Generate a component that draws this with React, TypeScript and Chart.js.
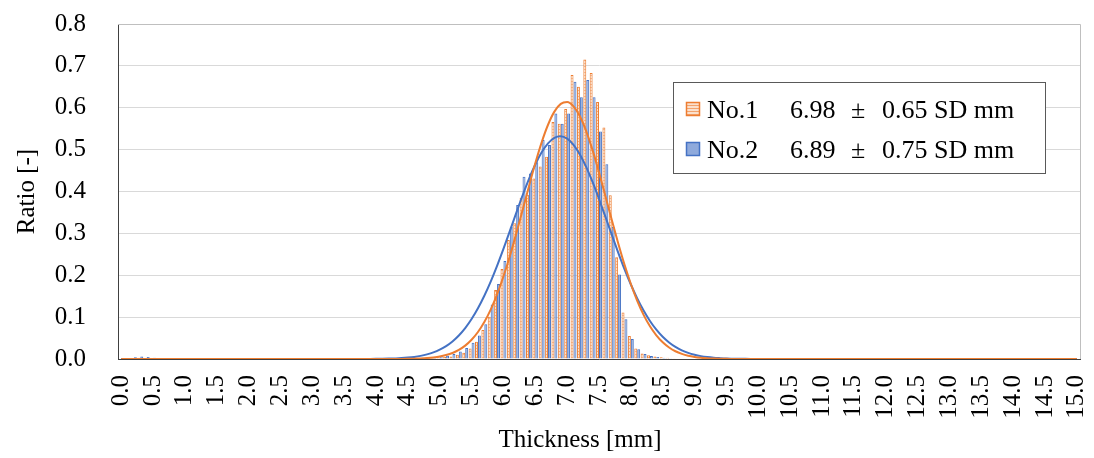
import React, { useEffect, useRef } from "react";
import { Chart, registerables } from "chart.js";

Chart.register(...registerables);

// Thickness bins 0.0 ... 15.0 mm (step 0.1)
const categories: string[] = Array.from({ length: 151 }, (_, i) => (i / 10).toFixed(1));

// Histogram ratio, No.1 (orange)
const no1Bars: number[] = [
  0, 0, 0.002, 0.003, 0.002, 0, 0, 0, 0, 0,
  0, 0, 0, 0, 0, 0, 0, 0, 0, 0,
  0, 0, 0, 0, 0, 0, 0, 0, 0, 0,
  0, 0, 0, 0, 0, 0, 0, 0, 0, 0,
  0, 0, 0, 0, 0, 0, 0, 0, 0.002, 0.003,
  0.004, 0.005, 0.006, 0.010, 0.015, 0.025, 0.041, 0.069, 0.101, 0.165,
  0.215, 0.284, 0.324, 0.385, 0.392, 0.431, 0.460, 0.483, 0.566, 0.562,
  0.597, 0.678, 0.650, 0.715, 0.683, 0.614, 0.553, 0.391, 0.243, 0.111,
  0.055, 0.025, 0.013, 0.009, 0.006, 0.004, 0.003, 0.002, 0.001, 0,
  0, 0, 0, 0, 0, 0, 0, 0, 0, 0,
  0, 0, 0, 0, 0, 0, 0, 0, 0, 0,
  0, 0, 0, 0, 0, 0, 0, 0, 0, 0,
  0, 0, 0, 0, 0, 0, 0, 0, 0, 0,
  0, 0, 0, 0, 0, 0, 0, 0, 0, 0,
  0, 0, 0, 0, 0, 0, 0, 0, 0, 0,
  0,
];

// Histogram ratio, No.2 (blue)
const no2Bars: number[] = [
  0, 0, 0.004, 0.006, 0.005, 0.003, 0.002, 0.002, 0, 0,
  0, 0, 0, 0, 0, 0, 0, 0, 0, 0,
  0, 0, 0, 0, 0, 0, 0, 0, 0, 0,
  0, 0, 0, 0, 0, 0, 0, 0, 0, 0,
  0, 0, 0, 0, 0, 0, 0.002, 0.003, 0.004, 0.005,
  0.007, 0.008, 0.012, 0.018, 0.026, 0.039, 0.056, 0.083, 0.130, 0.179,
  0.234, 0.316, 0.368, 0.435, 0.443, 0.470, 0.523, 0.511, 0.586, 0.562,
  0.586, 0.662, 0.625, 0.666, 0.625, 0.543, 0.465, 0.316, 0.202, 0.095,
  0.048, 0.023, 0.012, 0.007, 0.005, 0.003, 0.002, 0.001, 0.001, 0,
  0, 0, 0, 0, 0, 0, 0, 0, 0, 0,
  0, 0, 0, 0, 0, 0, 0, 0, 0, 0,
  0, 0, 0, 0, 0, 0, 0, 0, 0, 0,
  0, 0, 0, 0, 0, 0, 0, 0, 0, 0,
  0, 0, 0, 0, 0, 0, 0, 0, 0, 0,
  0, 0, 0, 0, 0, 0, 0, 0, 0, 0,
  0,
];

// Fitted curve No.1 (6.98 ± 0.65)
const no1Curve: number[] = [
  0, 0, 0, 0, 0, 0, 0, 0, 0, 0,
  0, 0, 0, 0, 0, 0, 0, 0, 0, 0,
  0, 0, 0, 0, 0, 0, 0, 0, 0, 0,
  0, 0, 0, 0, 0, 0, 0, 0, 0, 0,
  0, 0, 0.0001, 0.0001, 0.0002, 0.0004, 0.0008, 0.0013, 0.0022, 0.0037,
  0.0059, 0.0094, 0.0144, 0.0218, 0.0320, 0.0459, 0.0644, 0.0883, 0.1181, 0.1544,
  0.1970, 0.2455, 0.2988, 0.3551, 0.4122, 0.4673, 0.5174, 0.5594, 0.5907, 0.6092,
  0.6135, 0.6034, 0.5796, 0.5438, 0.4982, 0.4457, 0.3895, 0.3324, 0.2770, 0.2254,
  0.1792, 0.1391, 0.1055, 0.0781, 0.0565, 0.0399, 0.0275, 0.0185, 0.0122, 0.0078,
  0.0049, 0.0030, 0.0018, 0.0011, 0.0006, 0.0003, 0.0002, 0.0001, 0, 0,
  0, 0, 0, 0, 0, 0, 0, 0, 0, 0,
  0, 0, 0, 0, 0, 0, 0, 0, 0, 0,
  0, 0, 0, 0, 0, 0, 0, 0, 0, 0,
  0, 0, 0, 0, 0, 0, 0, 0, 0, 0,
  0, 0, 0, 0, 0, 0, 0, 0, 0, 0,
  0,
];

// Fitted curve No.2 (6.89 ± 0.75)
const no2Curve: number[] = [
  0, 0, 0, 0, 0, 0, 0, 0, 0, 0,
  0, 0, 0, 0, 0, 0, 0, 0, 0, 0,
  0, 0, 0, 0, 0, 0, 0, 0, 0, 0,
  0, 0, 0, 0, 0, 0, 0, 0.0001, 0.0001, 0.0002,
  0.0003, 0.0005, 0.0009, 0.0014, 0.0021, 0.0033, 0.0050, 0.0075, 0.0110, 0.0157,
  0.0222, 0.0308, 0.0420, 0.0562, 0.0739, 0.0955, 0.1212, 0.1511, 0.1850, 0.2226,
  0.2631, 0.3054, 0.3483, 0.3904, 0.4297, 0.4646, 0.4936, 0.5151, 0.5281, 0.5319,
  0.5262, 0.5115, 0.4883, 0.4581, 0.4221, 0.3821, 0.3398, 0.2969, 0.2548, 0.2148,
  0.1779, 0.1448, 0.1157, 0.0908, 0.0701, 0.0531, 0.0395, 0.0289, 0.0208, 0.0147,
  0.0102, 0.0069, 0.0046, 0.0030, 0.0020, 0.0012, 0.0008, 0.0005, 0.0003, 0.0002,
  0.0001, 0.0001, 0, 0, 0, 0, 0, 0, 0, 0,
  0, 0, 0, 0, 0, 0, 0, 0, 0, 0,
  0, 0, 0, 0, 0, 0, 0, 0, 0, 0,
  0, 0, 0, 0, 0, 0, 0, 0, 0, 0,
  0, 0, 0, 0, 0, 0, 0, 0, 0, 0,
  0,
];

const seriesNames = ["No.1", "No.2"];
const seriesMeans = ["6.98", "6.89"];
const seriesSDs = ["0.65 SD mm", "0.75 SD mm"];

const FONT = "'Liberation Serif', 'Times New Roman', Times, serif";
const ORANGE = "#ED7D31";
const BLUE = "#4472C4";
const BLUE_FILL = "#8FAADC";

function makeOrangePattern(): CanvasPattern | string {
  const c = document.createElement("canvas");
  c.width = 4;
  c.height = 3;
  const g = c.getContext("2d");
  if (!g) return "#F8CBAD";
  g.fillStyle = "#FBE0CC";
  g.fillRect(0, 0, 4, 3);
  g.fillStyle = "#F2A36E";
  g.fillRect(0, 0, 4, 1);
  const p = g.createPattern(c, "repeat");
  return p || "#F8CBAD";
}

export default function App() {
  const ref = useRef<HTMLCanvasElement | null>(null);

  useEffect(() => {
    if (!ref.current) return;
    const pattern = makeOrangePattern();

    const legendPlugin = {
      id: "boxLegend",
      afterDraw(chart: any) {
        const ctx = chart.ctx as CanvasRenderingContext2D;
        ctx.save();
        ctx.fillStyle = "#ffffff";
        ctx.fillRect(673.5, 82.5, 372, 91);
        ctx.strokeStyle = "#595959";
        ctx.lineWidth = 1;
        ctx.strokeRect(673.5, 82.5, 372, 91);
        const rows = [111.5, 151.5];
        const fills = [pattern, BLUE_FILL];
        const strokes = [ORANGE, BLUE];
        ctx.font = `26px ${FONT}`;
        ctx.textBaseline = "middle";
        ctx.textAlign = "left";
        for (let k = 0; k < 2; k++) {
          const y = rows[k];
          ctx.fillStyle = fills[k] as any;
          ctx.fillRect(686.5, y - 9, 13, 13);
          ctx.strokeStyle = strokes[k];
          ctx.lineWidth = 1.5;
          ctx.strokeRect(686.5, y - 9, 13, 13);
          ctx.fillStyle = "#000000";
          ctx.fillText(seriesNames[k], 707, y);
          ctx.fillText(seriesMeans[k], 790, y);
          ctx.fillText("\u00B1", 851, y);
          ctx.fillText(seriesSDs[k], 882, y);
        }
        // x-axis title
        ctx.font = `25px ${FONT}`;
        ctx.textAlign = "center";
        ctx.fillText("Thickness [mm]", 580, 440);
        // plot-area frame (top / right)
        const a = chart.chartArea;
        ctx.strokeStyle = "#BFBFBF";
        ctx.lineWidth = 1;
        ctx.beginPath();
        ctx.moveTo(a.left, Math.round(a.top) + 0.5);
        ctx.lineTo(Math.round(a.right) + 0.5, Math.round(a.top) + 0.5);
        ctx.lineTo(Math.round(a.right) + 0.5, a.bottom);
        ctx.stroke();
        ctx.restore();
      },
    };

    const chart = new Chart(ref.current, {
      type: "bar",
      data: {
        labels: categories,
        datasets: [
          {
            type: "line",
            label: "No.1 fit",
            data: no1Curve,
            borderColor: ORANGE,
            borderWidth: 2,
            pointRadius: 0,
            fill: false,
            cubicInterpolationMode: "monotone",
            order: 0,
          } as any,
          {
            type: "line",
            label: "No.2 fit",
            data: no2Curve,
            borderColor: BLUE,
            borderWidth: 2,
            pointRadius: 0,
            fill: false,
            cubicInterpolationMode: "monotone",
            order: 1,
          } as any,
          {
            type: "bar",
            label: "No.1",
            data: no1Bars,
            backgroundColor: pattern as any,
            borderColor: ORANGE,
            borderWidth: 1,
            categoryPercentage: 0.92,
            barPercentage: 1.0,
            order: 2,
          },
          {
            type: "bar",
            label: "No.2",
            data: no2Bars,
            backgroundColor: BLUE_FILL,
            borderColor: BLUE,
            borderWidth: 1,
            categoryPercentage: 0.92,
            barPercentage: 1.0,
            order: 3,
          },
        ],
      },
      options: {
        animation: false,
        responsive: false,
        maintainAspectRatio: false,
        layout: { padding: { top: 24, right: 14, left: 0, bottom: 0 } },
        plugins: {
          legend: { display: false },
          tooltip: { enabled: false },
        },
        scales: {
          x: {
            type: "category",
            grid: { display: false, drawTicks: false },
            border: { display: true, color: "#404040", width: 1 },
            ticks: {
              autoSkip: false,
              minRotation: 90,
              maxRotation: 90,
              padding: 16,
              color: "#000000",
              font: { family: FONT, size: 25 },
              callback: (_v: any, idx: number) => (idx % 5 === 0 ? categories[idx] : ""),
            },
            afterFit: (s: any) => {
              s.height = 99;
              s.paddingLeft = 0;
              s.paddingRight = 0;
              s.paddingTop = 0;
              s.paddingBottom = 0;
            },
          },
          y: {
            min: 0,
            max: 0.8,
            grid: { color: "#D9D9D9", lineWidth: 1, drawTicks: false },
            border: { display: true, color: "#404040", width: 1 },
            ticks: {
              stepSize: 0.1,
              padding: 32,
              color: "#000000",
              font: { family: FONT, size: 25 },
              callback: (v: any) => Number(v).toFixed(1),
            },
            title: {
              display: true,
              text: "Ratio [-]",
              color: "#000000",
              font: { family: FONT, size: 25 },
              padding: { top: 12, bottom: 0 },
            },
            afterFit: (s: any) => {
              s.width = 118;
              s.paddingLeft = 0;
              s.paddingRight = 0;
              s.paddingTop = 0;
              s.paddingBottom = 0;
            },
          },
        },
      },
      plugins: [legendPlugin],
    });

    return () => chart.destroy();
  }, []);

  return (
    <div style={{ position: "fixed", left: 0, top: 0, width: 1094, height: 458, background: "#fff" }}>
      <canvas ref={ref} width={1094} height={458} style={{ width: 1094, height: 458 }} />
    </div>
  );
}
